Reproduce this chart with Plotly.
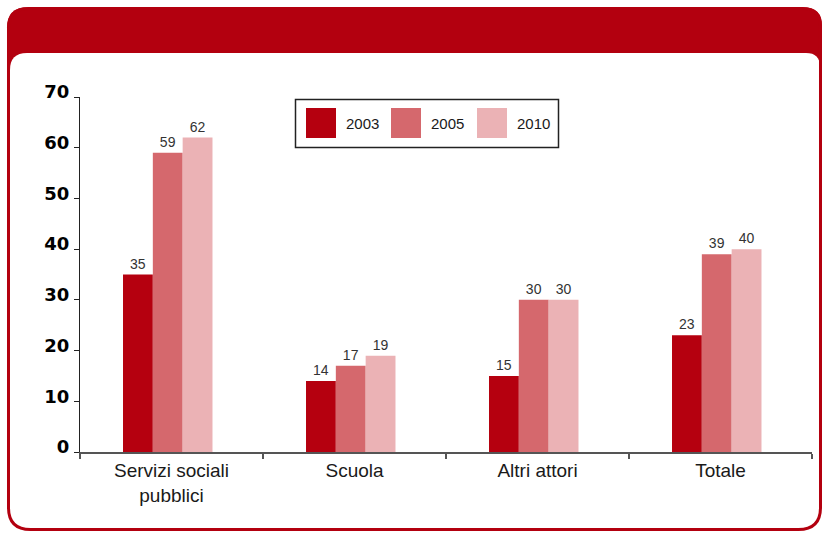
import plotly.graph_objects as go

# Data
categories = ["Servizi sociali<br>pubblici", "Scuola", "Altri attori", "Totale"]
years = ["2003", "2005", "2010"]
values_2003 = [35, 14, 15, 23]
values_2005 = [59, 17, 30, 39]
values_2010 = [62, 19, 30, 40]
series_values = [values_2003, values_2005, values_2010]
colors = ["#B5000F", "#D5686D", "#EBB2B5"]
y_ticks = [0, 10, 20, 30, 40, 50, 60, 70]

RED = "#B3000F"
W, H = 822, 548
L, R, T, B = 80, 812, 97, 452  # plot area in pixels


def px(x):
    return (x - L) / (R - L)


def py(y):
    return (B - y) / (B - T)


def rounded_path(x0, y0, x1, y1, r_tl, r_tr, r_br, r_bl):
    pts = [
        ("M", [(x0 + r_tl, y0)]),
        ("L", [(x1 - r_tr, y0)]),
        ("Q", [(x1, y0), (x1, y0 + r_tr)]),
        ("L", [(x1, y1 - r_br)]),
        ("Q", [(x1, y1), (x1 - r_br, y1)]),
        ("L", [(x0 + r_bl, y1)]),
        ("Q", [(x0, y1), (x0, y1 - r_bl)]),
        ("L", [(x0, y0 + r_tl)]),
        ("Q", [(x0, y0), (x0 + r_tl, y0)]),
    ]
    out = []
    for cmd, coords in pts:
        out.append(cmd + " " + " ".join(f"{px(a):.5f},{py(b):.5f}" for a, b in coords))
    return " ".join(out) + " Z"


fig = go.Figure()

bar_width = 0.163
first_offset = -0.265
for i, (name, vals, col) in enumerate(zip(years, series_values, colors)):
    fig.add_trace(go.Bar(
        x=categories, y=vals, name=name,
        marker=dict(color=col, line=dict(width=0)),
        width=bar_width, offset=first_offset + i * bar_width,
        text=vals, texttemplate="%{y}", textposition="outside",
        textfont=dict(family="Liberation Sans, Arial, sans-serif", size=14, color="#333333"),
        cliponaxis=False, showlegend=False,
    ))

shapes = [
    # red header band
    dict(type="path", xref="paper", yref="paper", layer="below",
         path=rounded_path(7, 7.5, 822, 80, 20, 18, 0, 0),
         fillcolor=RED, line=dict(width=0)),
    # white body
    dict(type="path", xref="paper", yref="paper", layer="below",
         path=rounded_path(10, 53, 820, 529, 17, 14, 20, 20),
         fillcolor="white", line=dict(width=0)),
    # red outline of the panel
    dict(type="path", xref="paper", yref="paper", layer="below",
         path=rounded_path(8.5, 8.5, 820.5, 529.5, 20, 18, 22, 22),
         fillcolor="rgba(0,0,0,0)", line=dict(color=RED, width=3)),
    # legend box
    dict(type="rect", xref="paper", yref="paper", layer="above",
         x0=px(295.5), x1=px(558.5), y0=py(147.5), y1=py(99.5),
         fillcolor="white", line=dict(color="#222222", width=1.5)),
]

annotations = []
swatch_x = [306, 391, 477]
for name, col, sx in zip(years, colors, swatch_x):
    shapes.append(dict(type="rect", xref="paper", yref="paper", layer="above",
                       x0=px(sx), x1=px(sx + 30), y0=py(138), y1=py(108),
                       fillcolor=col, line=dict(width=0)))
    annotations.append(dict(xref="paper", yref="paper", x=px(sx + 38), y=py(123.5),
                            text=name, showarrow=False, xanchor="left", yanchor="middle",
                            font=dict(family="Liberation Sans, Arial, sans-serif",
                                      size=15, color="#1a1a1a")))

fig.update_layout(
    width=W, height=H,
    margin=dict(l=L, r=W - R, t=T, b=H - B, pad=0),
    paper_bgcolor="white",
    plot_bgcolor="rgba(0,0,0,0)",
    barmode="overlay",
    shapes=shapes,
    annotations=annotations,
    showlegend=False,
    xaxis=dict(
        type="category", range=[-0.5, 3.5],
        showline=True, linecolor="#555555", linewidth=2,
        ticks="outside", tickson="boundaries", ticklen=5, tickcolor="#555555", tickwidth=1.5,
        showgrid=False, zeroline=False,
        tickfont=dict(family="Liberation Sans, Arial, sans-serif", size=19, color="#1a1a1a"),
    ),
    yaxis=dict(
        range=[0, 70], tickvals=y_ticks,
        showline=True, linecolor="#222222", linewidth=1,
        ticks="outside", ticklen=5, tickcolor="#222222", tickwidth=1,
        showgrid=False, zeroline=False,
        ticklabelstandoff=1, ticklabelshift=-5,
        tickfont=dict(family="DejaVu Sans, sans-serif", size=18, color="#000000", weight=900),
    ),
)

fig.write_html("out.html")
